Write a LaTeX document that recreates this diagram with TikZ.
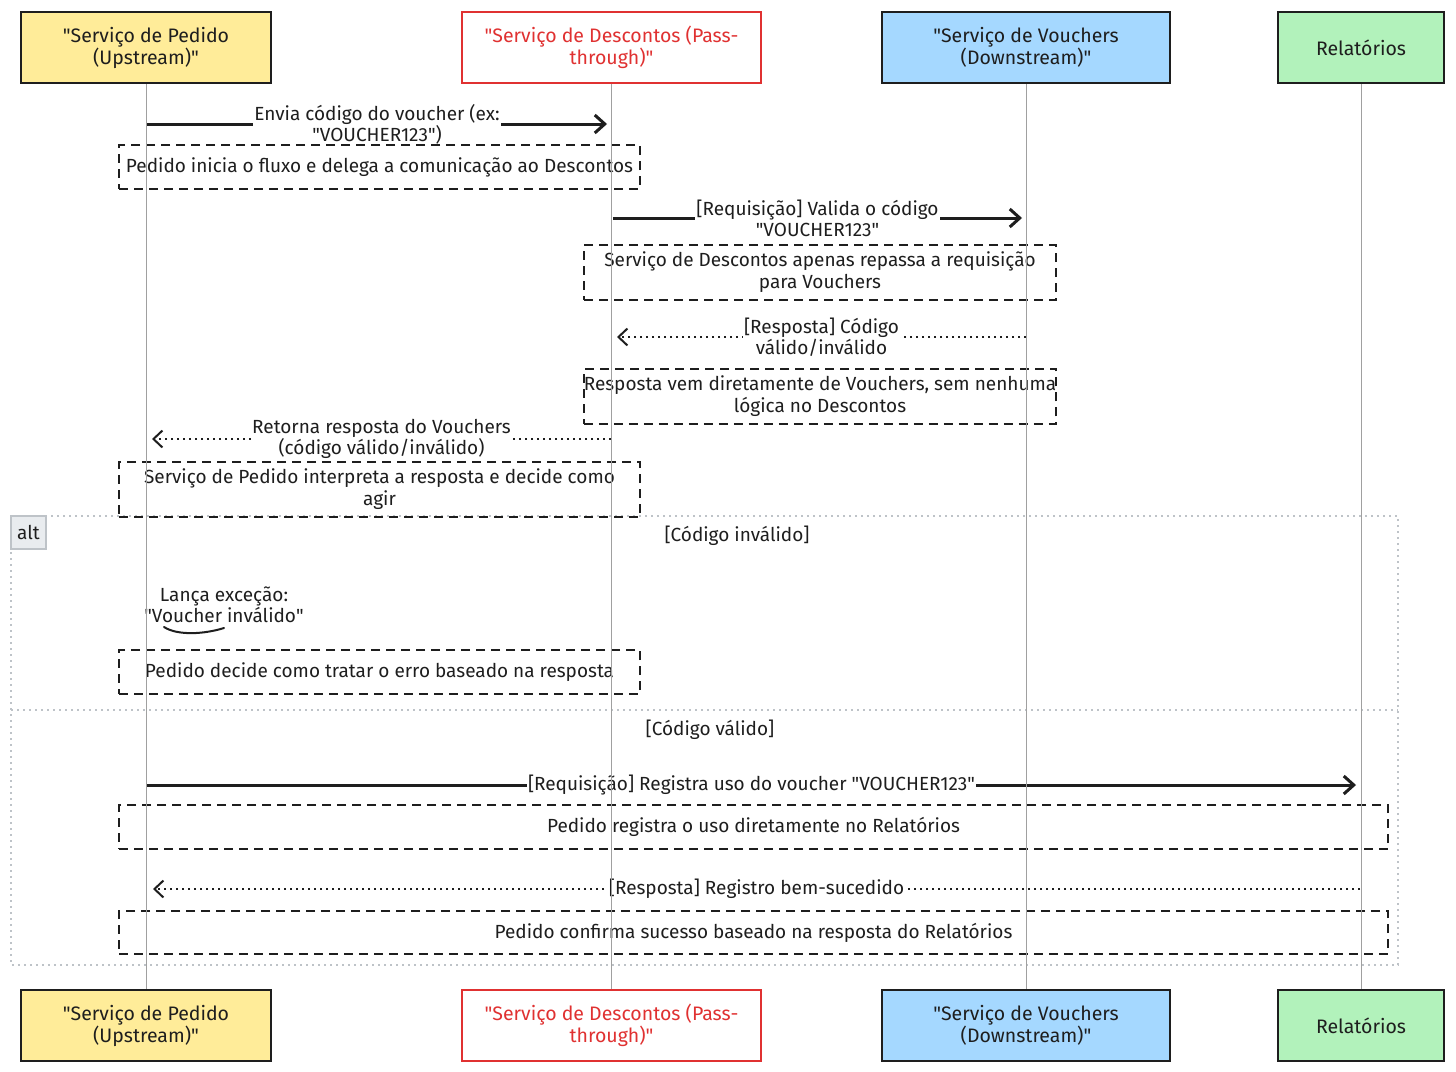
\documentclass[tikz,border=0pt]{standalone}
\usepackage{fontspec}
\setmainfont{Fira Sans}
\usetikzlibrary{positioning,arrows.meta}
\definecolor{inkdark}{HTML}{1E1E1E}
\definecolor{pedidofill}{HTML}{FFEC99}
\definecolor{descred}{HTML}{E03131}
\definecolor{voucherfill}{HTML}{A5D8FF}
\definecolor{relfill}{HTML}{B2F2BB}
\definecolor{lifegray}{HTML}{A0A0A0}
\definecolor{framegray}{HTML}{BEC3C8}
\definecolor{tagfill}{HTML}{E9ECEF}
\newcommand{\dq}{\textquotedbl}

\begin{document}
\begin{tikzpicture}[x=1pt,y=-1pt,
				actor/.style={draw=inkdark, line width=2pt, minimum height=71pt, align=center, text=inkdark, font=\fontsize{19.5}{22}\selectfont, inner sep=0pt},
				note/.style={draw=inkdark, line width=2pt, dash pattern=on 9pt off 6pt, align=center, text=inkdark, font=\fontsize{19}{22}\selectfont, inner sep=0pt},
				msglabel/.style={fill=white, align=center, text=inkdark, font=\fontsize{19}{21}\selectfont, inner xsep=1pt, inner ysep=0pt},
				callmsg/.style={draw=inkdark, line width=3pt, -{Straight Barb[length=10pt,width=18pt]}},
				replymsg/.style={draw=inkdark, line width=2pt, dash pattern=on 2pt off 4pt, -{Straight Barb[length=9pt,width=17pt]}},
				lifeline/.style={draw=lifegray, line width=1pt},
				altframe/.style={draw=framegray, line width=2pt, dash pattern=on 2pt off 4pt}
				]
				\useasboundingbox (0,0) rectangle (1456,1071);
				
				% participants
				\node[actor, fill=pedidofill, minimum width=250pt] (pedtop) at (146,47.5) {\dq Serviço de Pedido\\(Upstream)\dq};
				\node[actor, draw=descred, text=descred, fill=white, minimum width=299pt] (desctop) at (611.5,47.5) {\dq Serviço de Descontos (Pass-\\through)\dq};
				\node[actor, fill=voucherfill, minimum width=288pt] (vouchtop) at (1026,47.5) {\dq Serviço de Vouchers\\(Downstream)\dq};
				\node[actor, fill=relfill, minimum width=166pt] (reltop) at (1361,47.5) {Relatórios};
				
				\node[actor, fill=pedidofill, minimum width=250pt, below=905pt of pedtop] (pedbot) {\dq Serviço de Pedido\\(Upstream)\dq};
				\node[actor, draw=descred, text=descred, fill=white, minimum width=299pt, below=905pt of desctop] (descbot) {\dq Serviço de Descontos (Pass-\\through)\dq};
				\node[actor, fill=voucherfill, minimum width=288pt, below=905pt of vouchtop] (vouchbot) {\dq Serviço de Vouchers\\(Downstream)\dq};
				\node[actor, fill=relfill, minimum width=166pt, below=905pt of reltop] (relbot) {Relatórios};
				
				% alt frame
				\coordinate (altnw) at (11,516);
				\coordinate (altse) at (1398,965);
				\coordinate (altmidw) at (11,710);
				\coordinate (altmide) at (1398,710);
				\draw[altframe] (altnw) rectangle (altse);
				\draw[altframe] (altmidw) -- (altmide);
				\node[draw=framegray, fill=tagfill, line width=1.5pt, minimum width=35pt, minimum height=33pt, inner sep=0pt, text=inkdark, font=\fontsize{19}{20}\selectfont] (alttag) at (28.5,532.5) {alt};
				\node[text=inkdark, font=\fontsize{19}{20}\selectfont] (guardbad) at (737,536) {[Código inválido]};
				\node[text=inkdark, font=\fontsize{19}{20}\selectfont] (guardok) at (710,730) {[Código válido]};
				
				% message anchors
				\coordinate (m1a) at (147,124);
				\coordinate (m1b) at (607,124);
				\coordinate (m2a) at (613,218);
				\coordinate (m2b) at (1022,218);
				\coordinate (m3a) at (1026,337);
				\coordinate (m3b) at (617,337);
				\coordinate (m4a) at (611,439);
				\coordinate (m4b) at (152,439);
				\coordinate (m5a) at (147,785);
				\coordinate (m5b) at (1356,785);
				\coordinate (m6a) at (1360,889);
				\coordinate (m6b) at (153,889);
				
				% messages
				\draw[callmsg] (m1a) -- node[msglabel] (l1) {Envia código do voucher (ex:\\\dq VOUCHER123\dq)} (m1b);
				\draw[callmsg] (m2a) -- node[msglabel] (l2) {[Requisição] Valida o código\\\dq VOUCHER123\dq} (m2b);
				\draw[replymsg] (m3a) -- node[msglabel] (l3) {[Resposta] Código\\válido/inválido} (m3b);
				\draw[replymsg] (m4a) -- node[msglabel] (l4) {Retorna resposta do Vouchers\\(código válido/inválido)} (m4b);
				\draw[callmsg] (m5a) -- node[msglabel] (l5) {[Requisição] Registra uso do voucher \dq VOUCHER123\dq} (m5b);
				\draw[replymsg] (m6a) -- node[msglabel] (l6) {[Resposta] Registro bem-sucedido} (m6b);
				
				% self call
				\node[msglabel] (selfcall) at (224,605) {Lança exceção:\\\dq Voucher inválido\dq};
				\coordinate (loopa) at (164,627);
				\coordinate (loopb) at (224,628);
				\draw[inkdark, line width=2pt, line cap=round] (loopa) .. controls (178,636) and (205,634) .. (loopb);
				
				% notes
				\node[note, minimum width=521pt, minimum height=44pt] (n1) at (379.5,167) {Pedido inicia o fluxo e delega a comunicação ao Descontos};
				\node[note, minimum width=472pt, minimum height=55pt] (n2) at (820,272.5) {Serviço de Descontos apenas repassa a requisição\\para Vouchers};
				\node[note, minimum width=472pt, minimum height=55pt] (n3) at (820,396.5) {Resposta vem diretamente de Vouchers, sem nenhuma\\lógica no Descontos};
				\node[note, minimum width=521pt, minimum height=55pt] (n4) at (379.5,489.5) {Serviço de Pedido interpreta a resposta e decide como\\agir};
				\node[note, minimum width=521pt, minimum height=44pt] (n5) at (379.5,672) {Pedido decide como tratar o erro baseado na resposta};
				\node[note, minimum width=1269pt, minimum height=44pt] (n6) at (753.5,827) {Pedido registra o uso diretamente no Relatórios};
				\node[note, minimum width=1269pt, minimum height=43pt] (n7) at (753.5,932.5) {Pedido confirma sucesso baseado na resposta do Relatórios};
				
				% lifelines
				\draw[lifeline] (pedtop) -- (pedbot);
				\draw[lifeline] (desctop) -- (descbot);
				\draw[lifeline] (vouchtop) -- (vouchbot);
				\draw[lifeline] (reltop) -- (relbot);
			\end{tikzpicture}
\end{document}
